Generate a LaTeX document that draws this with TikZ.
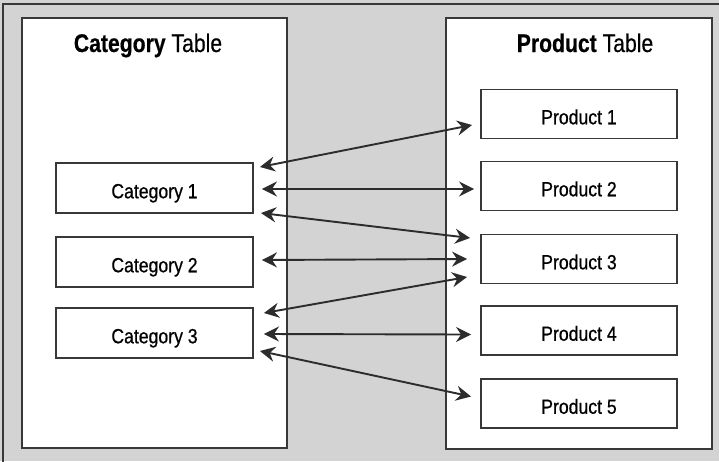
\documentclass[tikz,border=0pt]{standalone}
\usepackage{fontspec}
\setmainfont[FakeStretch=0.86,FakeBold=0.7]{Liberation Sans}
\newfontfamily\titlefont[FakeStretch=0.83,FakeBold=0.4]{Liberation Sans}
\usetikzlibrary{arrows.meta}
\definecolor{panelgray}{HTML}{D3D3D3}
\definecolor{edgecol}{HTML}{383838}
\definecolor{linkcol}{HTML}{2C2C2C}
\begin{document}
\begin{tikzpicture}[x=1pt,y=-1pt,
  tablebox/.style={draw=edgecol,fill=white,line width=2.2pt,inner sep=0pt},
  titletext/.style={anchor=base,inner sep=0pt,font=\titlefont\fontsize{25.5}{26}\selectfont},
  rowbox/.style={draw=edgecol,fill=white,line width=1.9pt,minimum height=49pt,
    inner sep=0pt,text height=20.5pt,text depth=0pt,font=\fontsize{20.5}{21}\selectfont},
  catbox/.style={rowbox,minimum width=197pt,minimum height=50pt},
  prodbox/.style={rowbox,minimum width=196pt},
  link/.style={draw=linkcol,line width=1.9pt,
    {Stealth[length=15pt,width=15pt,inset=5pt]}-{Stealth[length=15pt,width=15pt,inset=5pt]}}
]
\useasboundingbox (0,0) rectangle (719,461);
% background panel with its frame on the left and top
\fill[panelgray] (0,0) rectangle (719,461);
\draw[edgecol,line width=2pt] (3,470) -- (3,4) -- (730,4);

% the two tables
\node[tablebox,minimum width=265pt,minimum height=430pt] (cattab) at (154.5,233) {};
\node[tablebox,minimum width=266pt,minimum height=431pt] (prodtab) at (579,233.5) {};
\node[titletext] (cattitle) at (148,52) {\textbf{Category} Table};
\node[titletext] (prodtitle) at (585,52) {\textbf{Product} Table};

% rows
\node[catbox] (c1) at (154.5,188) {Category 1};
\node[catbox] (c2) at (154.5,262) {Category 2};
\node[catbox] (c3) at (154.5,333) {Category 3};

\node[prodbox] (p1) at (579,114) {Product 1};
\node[prodbox] (p2) at (579,186) {Product 2};
\node[prodbox] (p3) at (579,259) {Product 3};
\node[prodbox] (p4) at (579,330.5) {Product 4};
\node[prodbox] (p5) at (579,403.5) {Product 5};

% many-to-many links
\draw[link] ([shift={(6,-21)}]c1.east) -- ([shift={(-8,11)}]p1.west);
\draw[link] ([shift={(8,1)}]c1.east) -- ([shift={(-6,3)}]p2.west);
\draw[link] ([shift={(7,25)}]c1.east) -- ([shift={(-10,-21)}]p3.west);
\draw[link] ([shift={(8,-2)}]c2.east) -- ([shift={(-13,0)}]p3.west);
\draw[link] ([shift={(10,-20)}]c3.east) -- ([shift={(-13,18)}]p3.west);
\draw[link] ([shift={(10,1)}]c3.east) -- ([shift={(-9,4)}]p4.west);
\draw[link] ([shift={(6,18)}]c3.east) -- ([shift={(-9,-7)}]p5.west);
\end{tikzpicture}
\end{document}
